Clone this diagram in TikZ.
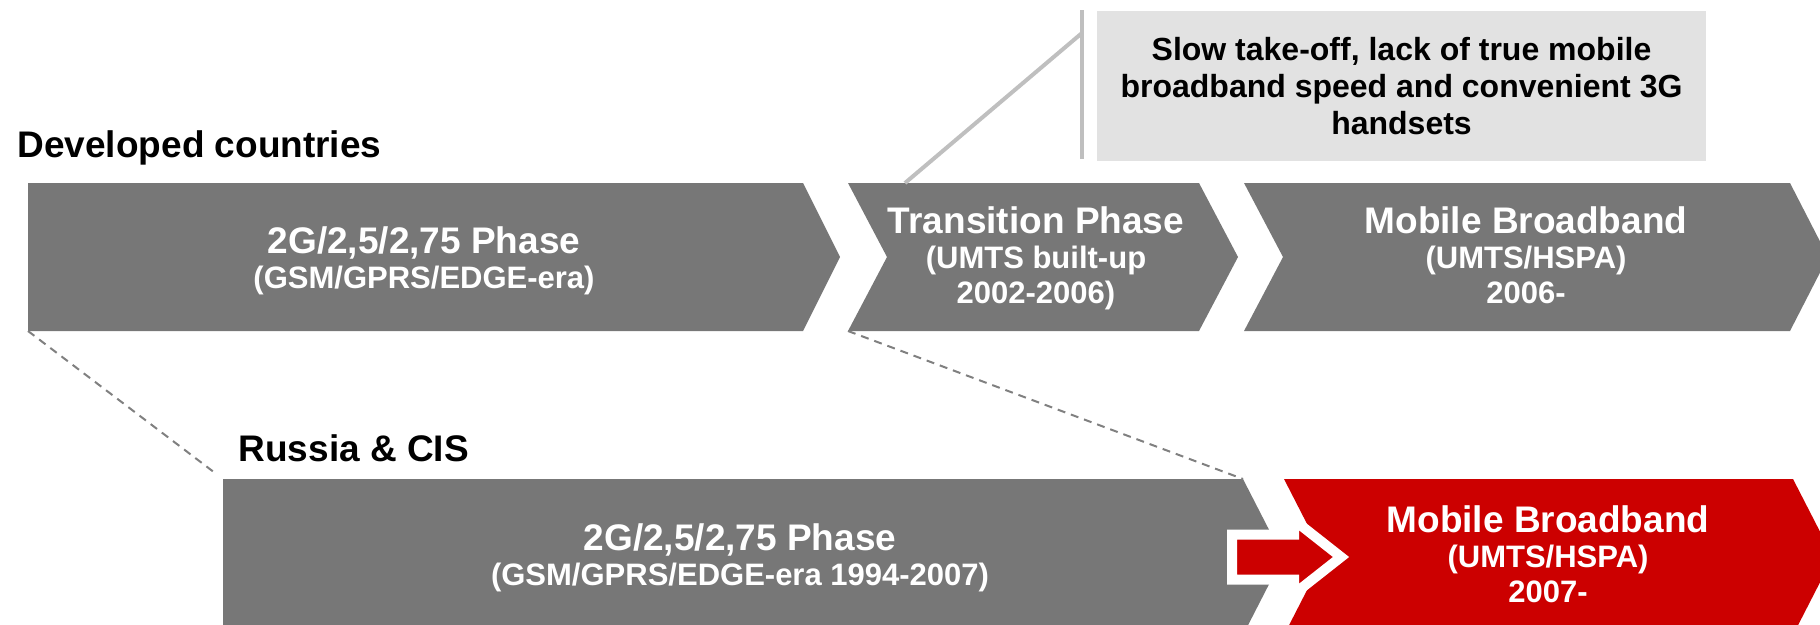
\documentclass[tikz,border=0pt]{standalone}
\usepackage{fontspec}
\setmainfont{Liberation Sans}
\usetikzlibrary{positioning,calc}
\definecolor{phasegray}{RGB}{119,119,119}
\definecolor{bbred}{RGB}{204,0,0}
\definecolor{notegray}{RGB}{226,226,226}
\definecolor{leadgray}{RGB}{191,191,191}
\definecolor{dashgray}{RGB}{128,128,128}
\newcommand{\bigline}[1]{{\fontsize{37}{35}\selectfont #1}}

\begin{document}
\begin{tikzpicture}[x=1pt,y=-1pt,
    phase/.style={fill=phasegray},
    newphase/.style={fill=bbred},
    phase text/.style={text=white,align=center,anchor=base,font=\fontsize{31}{35}\selectfont\bfseries},
    region/.style={anchor=base west,font=\fontsize{37}{37}\selectfont\bfseries},
    note/.style={fill=notegray,align=center,minimum width=609pt,minimum height=150pt,inner sep=0pt,font=\fontsize{32}{37}\selectfont\bfseries},
    leader/.style={draw=leadgray,line width=4pt},
    zoomline/.style={draw=dashgray,line width=2pt,dash pattern=on 8pt off 6pt}]

    \useasboundingbox (0,0) rectangle (1820,624);
    \begin{scope}
    \clip (0,0) rectangle (1820,624);

    \fill[phase] (28,183) -- (803,183) -- (840,257) -- (803,331) -- (28,331) -- cycle;
    \fill[phase] (848,183) -- (1199,183) -- (1238,257) -- (1199,331) -- (848,331) -- (887,257) -- cycle;
    \fill[phase] (1244,183) -- (1790,183) -- (1828,257) -- (1790,331) -- (1244,331) -- (1283,257) -- cycle;
    \fill[phase] (223,479) -- (1243,479) -- (1283,557) -- (1243,635) -- (223,635) -- cycle;
    \fill[newphase] (1284,479) -- (1793,479) -- (1833,557) -- (1793,635) -- (1284,635) -- (1324,557) -- cycle;
    \draw[white,line width=10pt,fill=bbred] (1232,534.5) -- (1294,534.5) -- (1294,520) -- (1341,557)
        -- (1294,594) -- (1294,579.5) -- (1232,579.5) -- cycle;
    \end{scope}

    \coordinate (p1 sw) at (28,331);
    \coordinate (p2 sw) at (848,331);
    \coordinate (p2 top) at (905,183);
    \coordinate (q1 nw) at (223,479);
    \coordinate (q1 ne) at (1243,479);
    \coordinate (bar top) at (1082,10);
    \coordinate (bar bend) at (1082,33);
    \coordinate (bar bottom) at (1082,159);

    \node[region] (dev) at (14,157) {Developed countries};
    \node[region] (cis) at (235,461) {Russia \& CIS};

    \node[phase text] (p1) at (424,288) {\bigline{2G/2,5/2,75 Phase}\\(GSM/GPRS/EDGE-era)};
    \node[phase text] (p2) at (1036,303) {\bigline{Transition Phase}\\(UMTS built-up\\2002-2006)};
    \node[phase text] (p3) at (1526,303) {\bigline{Mobile Broadband}\\(UMTS/HSPA)\\2006-};
    \node[phase text] (q1) at (740,585) {\bigline{2G/2,5/2,75 Phase}\\(GSM/GPRS/EDGE-era 1994-2007)};
    \node[phase text] (q2) at (1548,602) {\bigline{Mobile Broadband}\\(UMTS/HSPA)\\2007-};

    \node[note] (note) at (1401.5,86) {Slow take-off, lack of true mobile\\broadband speed and convenient 3G\\handsets};

    \draw[leader] (bar top) -- (bar bottom);
    \draw[leader] (p2 top) -- (bar bend);

    \draw[zoomline] (p1 sw) -- ($(p1 sw)!0.97!(q1 nw)$);
    \draw[zoomline] (p2 sw) -- (q1 ne);
\end{tikzpicture}
\end{document}
